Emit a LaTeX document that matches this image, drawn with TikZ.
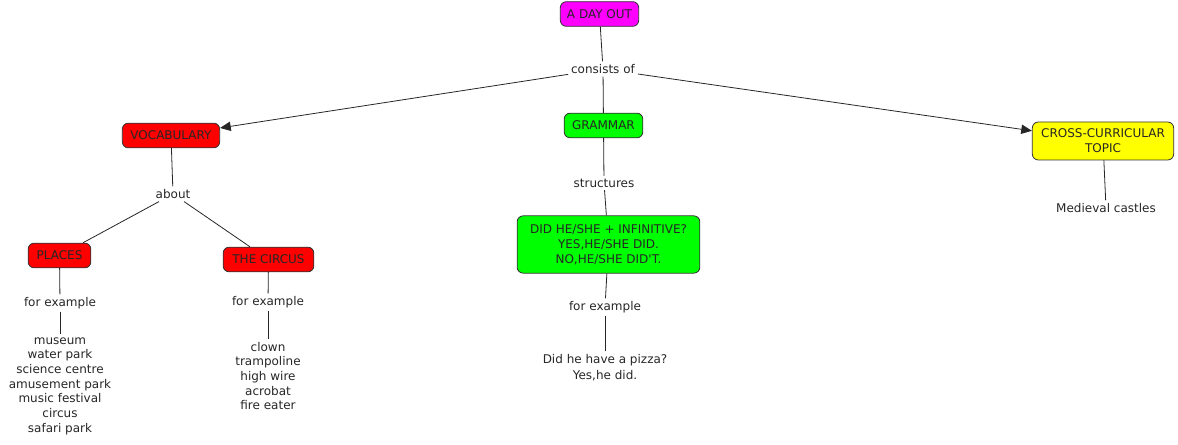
\documentclass[tikz,border=0pt]{standalone}
\usepackage{fontspec}
\setmainfont{DejaVu Sans}
\usetikzlibrary{arrows.meta}
\definecolor{cmag}{RGB}{255,0,255}
\definecolor{cred}{RGB}{255,0,0}
\definecolor{cgreen}{RGB}{0,255,0}
\definecolor{cyel}{RGB}{255,255,0}
\begin{document}
\begin{tikzpicture}[x=0.75pt,y=-0.75pt,
  every node/.style={font=\fontsize{9}{11}\selectfont, text=black!85},
  box/.style={draw=black!80, rounded corners=4.5pt, inner xsep=5pt, inner ysep=0pt, minimum height=18.5pt, align=center, line width=0.6pt},
  lbl/.style={inner sep=2pt, align=center},
  link/.style={draw=black!85, line width=0.6pt},
  arr/.style={link, -{Triangle[length=8pt,width=7pt]}}]
\useasboundingbox (0,0) rectangle (1178,445);
\node[box, fill=cmag] (day) at (599.5,14) {A DAY OUT};
\node[lbl] (cons) at (603,69) {consists of};
\node[box, fill=cred, minimum width=73pt] (voc) at (171,135.5) {VOCABULARY};
\node[box, fill=cgreen, minimum width=59pt] (gram) at (603.5,125.5) {GRAMMAR};
\node[box, fill=cyel, minimum height=28.5pt, minimum width=106pt, font=\fontsize{9}{11.25}\selectfont] (cross) at (1103,141) {CROSS-CURRICULAR\\TOPIC};
\node[lbl] (about) at (173,194) {about};
\node[box, fill=cred, minimum width=47pt] (places) at (59.5,255.5) {PLACES};
\node[box, fill=cred, minimum width=68pt] (circus) at (268.5,259.5) {THE CIRCUS};
\node[lbl] (fe1) at (60,303) {for example};
\node[lbl] (fe2) at (268,302) {for example};
\node[lbl] (list1) at (60,386) {museum\\water park\\science centre\\amusement park\\music festival\\circus\\safari park};
\node[lbl] (list2) at (268,376) {clown\\trampoline\\high wire\\acrobat\\fire eater};
\node[lbl] (struct) at (604,183) {structures};
\node[box, fill=cgreen, minimum width=137pt, minimum height=43pt, font=\fontsize{9}{11.25}\selectfont] (did) at (608.5,244.5) {DID HE/SHE + INFINITIVE?\\YES,HE/SHE DID.\\NO,HE/SHE DID\textquotesingle T.};
\node[lbl] (fe3) at (605,307) {for example};
\node[lbl, font=\fontsize{9}{12}\selectfont] (pizza) at (605,367.5) {Did he have a pizza?\\Yes,he did.};
\node[lbl] (med) at (1106,208) {Medieval castles};

\draw[link] (day) -- (cons);
\draw[arr] (cons) -- (voc);
\draw[link] (cons) -- (gram);
\draw[arr] (cons) -- (cross);
\draw[link] (voc) -- (about);
\draw[link] (about) -- (places);
\draw[link] (about) -- (circus);
\draw[link] (places) -- (fe1);
\draw[link] (fe1) -- (list1);
\draw[link] (circus) -- (fe2);
\draw[link] (fe2) -- (list2);
\draw[link] (gram) -- (struct);
\draw[link] (struct) -- (did);
\draw[link] (did) -- (fe3);
\draw[link] (fe3) -- (pizza);
\draw[link] (cross) -- (med);
\end{tikzpicture}
\end{document}
